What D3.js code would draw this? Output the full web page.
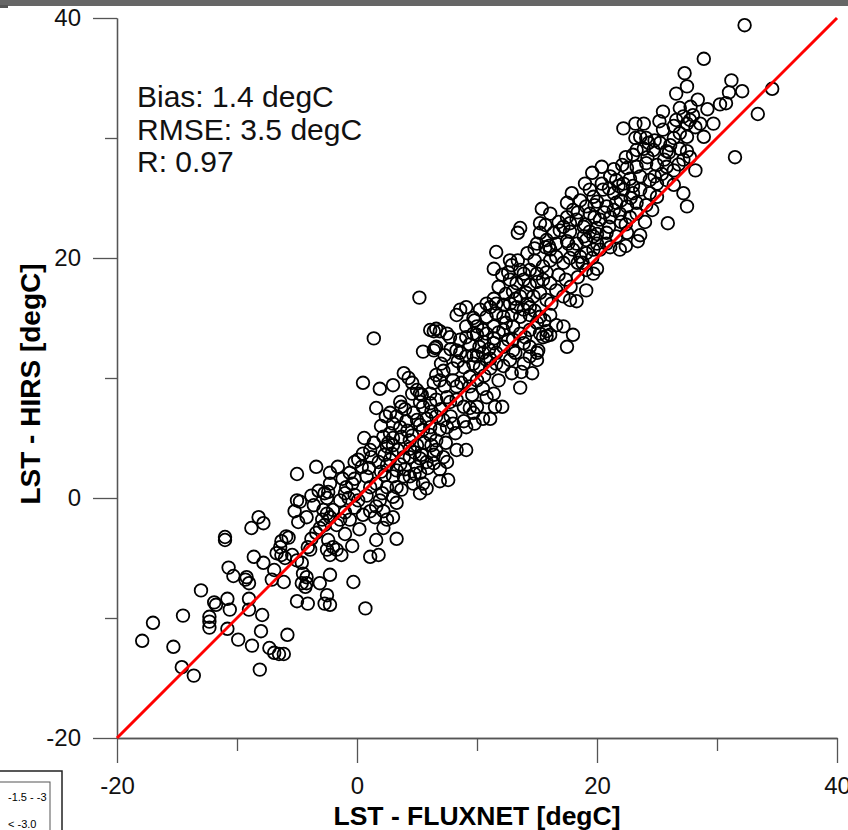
<!DOCTYPE html>
<html>
<head>
<meta charset="utf-8">
<script src="https://cdn.jsdelivr.net/npm/d3@7"></script>
<style>
  body { margin: 0; background: #fff; }
  svg { display: block; font-family: "Liberation Sans", Arial, sans-serif; }
</style>
</head>
<body>
<svg id="chart" width="848" height="830"></svg>
<script>
// LST from FLUXNET (x) vs LST from HIRS (y), degC
var ptsCold = [
  [-17.9,-11.9],[-17.0,-10.4],[-15.3,-12.4],[-14.5,-9.8],[-14.6,-14.1],[-13.6,-14.8],[-13.0,-7.7],[-11.9,-8.7],
  [-11.75,-8.9],[-10.8,-8.4],[-10.6,-9.3],[-12.3,-9.9],[-12.3,-10.3],[-12.3,-10.8],[-10.8,-10.9],[-10.7,-5.8],
  [-10.3,-6.5],[-9.3,-6.8],[-9.2,-6.6],[-9.0,-7.1],[-9.0,-8.4],[-9.0,-9.3],[-7.9,-9.75],[-8.0,-11.1],
  [-9.9,-11.8],[-8.75,-12.3],[-8.1,-14.3],[-7.3,-12.5],[-6.9,-12.9],[-6.5,-13.0],[-6.1,-13.0],[-5.8,-11.4],
  [-7.8,-5.4],[-6.9,-6.0],[-7.1,-6.8],[-6.1,-7.0],[-11.0,-3.5],[-11.0,-3.25]
];
var ptsZero = [
  [-3.4,2.6],[-5.0,2.0],[-1.6,2.6],[-2.25,2.1],[-0.6,2.1],[-0.2,3.0],[0.1,3.2],[1.1,4.0],[1.2,3.4],[2.5,4.3],
  [3.0,4.4],[2.9,3.7],[2.5,2.75],[2.3,1.9],[-2.25,1.2],[-2.4,0.5],[-0.9,0.9],[-0.4,1.2],[0.8,1.8],[1.6,1.2],
  [1.1,0.9],[3.0,1.8],[2.5,0.9],[3.3,0.9],[2.1,0.4],[3.0,0.1],[3.3,-0.4],[-2.7,0.4],[-2.5,0.0],[-1.0,0.4],
  [-1.4,-0.2],[-0.7,0.0],[-0.2,0.25],[0.1,-0.2],[-5.0,-0.2],[-4.75,-0.3],[-5.2,-1.1],[-4.9,-2.0],[-2.8,-1.0],
  [-2.5,-1.3],[-2.25,-1.6],[-2.9,-1.8],[-2.7,-2.25],[-3.1,-2.5],[-2.0,-1.0],[-1.4,-1.8],[-1.7,-2.25],[-0.6,-1.8],
  [0.5,-1.4],[1.1,-1.1],[1.5,-1.6],[1.6,-0.7],[2.2,-1.1],[3.0,-1.6],[2.5,-1.8],[2.2,-2.5],[1.6,-3.5],[3.3,-3.4],
  [1.1,-4.9],[1.8,-4.75],[-8.2,-1.6],[-7.8,-2.1],[-8.8,-2.5],[-5.9,-3.2],[-5.7,-3.3],[-6.3,-3.6],[-3.8,-3.4],
  [-2.4,-3.5],[-2.0,-4.1],[-1.7,-4.3],[-1.3,-4.75],[-2.5,-4.3],[-2.25,-4.75],[-4.1,-4.1],[-3.9,-4.3],[-6.7,-4.6],
  [-6.3,-4.75],[-6.0,-5.0],[-6.4,-4.1],[-5.4,-4.75],[-5.0,-5.2],[-4.6,-5.4],[-8.6,-4.9],[-4.5,-6.3],[-4.2,-6.6],
  [-4.6,-7.1],[-4.2,-7.1],[-4.3,-7.4],[-2.25,-6.4],[-3.1,-7.1],[-0.3,-7.0],[-5.0,-8.6],[-4.1,-8.8],[-2.5,-8.1],
  [-2.7,-8.8],[-2.25,-8.9],[0.7,-9.2],
  [1.9,-0.2],[0.8,0.2],[-0.2,-0.8],[-1.0,-1.2],[-0.2,1.6],[0.4,2.6],[-1.2,1.6],[-3.2,0.6],[-3.6,-0.6],
  [-3.8,0.2],[-4.2,-1.6],[-3.4,-2.9],[-1.0,-3.0],[0.2,-2.6],[-0.4,-4.0]
];
var ptsMild = [
  [1.4,13.3],[5.5,12.2],[6.5,12.5],[7.3,11.9],[6.1,14.0],[6.9,13.9],[7.75,13.4],[8.6,13.2],[9.1,13.4],[10.0,13.6],
  [10.8,13.7],[11.4,13.3],[8.6,12.1],[9.1,11.8],[9.7,11.9],[10.5,12.1],[11.1,11.6],[11.6,12.1],[8.9,10.9],[9.7,11.2],
  [10.25,10.9],[11.1,10.8],[0.5,9.6],[1.9,9.1],[3.0,9.4],[3.9,10.4],[4.3,10.0],[4.6,9.6],[5.0,9.0],[5.4,8.6],
  [4.6,8.7],[6.6,10.25],[6.9,9.8],[7.3,9.3],[6.4,9.6],[8.0,9.8],[8.3,9.3],[8.7,9.6],[9.4,10.1],[10.0,9.8],
  [9.4,9.3],[10.5,9.1],[11.4,8.7],[10.8,8.4],[1.6,7.5],[3.6,8.0],[3.7,7.6],[5.25,8.0],[5.5,7.6],[6.1,7.9],
  [6.6,8.2],[7.5,8.4],[7.75,8.0],[8.3,8.2],[8.9,7.6],[9.4,7.5],[10.0,7.6],[9.7,7.1],[10.5,6.6],[9.8,6.2],
  [8.9,6.4],[9.1,5.9],[2.75,7.1],[3.3,6.8],[3.0,6.2],[3.6,5.9],[4.1,6.4],[4.7,7.1],[5.0,6.5],[5.25,6.1],
  [5.5,5.7],[6.1,5.9],[6.6,6.8],[7.2,6.5],[7.5,5.9],[6.9,5.7],[11.5,7.6],[2.2,5.1],[2.75,5.4],[3.0,5.0],
  [2.6,4.6],[3.7,5.1],[4.4,4.8],[5.0,4.4],[4.4,4.1],[6.1,5.25],[6.6,4.8],[6.2,4.4],[0.5,3.7],[2.3,3.6],
  [2.75,3.2],[3.9,3.4],[4.4,3.4],[5.25,3.3],[6.6,4.0],[7.2,3.4],[8.3,4.0],[9.1,4.0],[7.5,3.0],[5.8,3.0],
  [6.4,2.9],[5.9,2.5],[5.0,2.6],[5.25,2.1],[4.4,1.8],[4.7,1.2],[3.3,2.3],[3.9,1.8],[3.7,0.7],[6.9,1.4],
  [7.6,1.5],[5.5,1.2],[5.8,0.8],[5.25,0.4],[5.2,16.7],[6.4,13.9],[6.4,12.3],[5.25,8.7],[6.1,8.7],
  [1.0,2.5],[1.8,3.0],[2.0,2.2],[3.6,2.8],[4.0,2.4],[4.8,3.8],[5.6,4.6],[4.2,5.6],[3.4,4.0],[1.4,4.6],
  [0.6,5.0],[2.0,6.0],[2.4,6.8],[4.0,7.4],[4.6,5.2],[5.8,6.6],[6.2,7.2],[7.0,7.4],[7.8,6.8],[8.2,5.4],
  [8.0,6.2],[7.4,4.6],[5.4,3.6],[4.8,2.0],[6.4,3.6],[6.9,2.4]
];
var ptsWarm = [
  [15.4,24.1],[16.1,23.7],[15.25,22.9],[15.7,22.75],[17.5,24.6],[18.0,24.0],[19.1,24.3],[19.8,24.4],[17.5,23.4],
  [18.3,23.2],[13.6,22.5],[13.4,22.1],[15.25,22.1],[15.8,21.5],[16.4,22.1],[16.9,22.3],[17.75,22.2],[18.9,22.6],
  [19.4,22.2],[20.0,22.5],[19.7,21.8],[15.0,21.2],[15.7,20.9],[16.6,21.2],[17.5,21.4],[18.3,21.2],[19.1,21.5],
  [11.6,20.5],[12.75,19.8],[12.9,19.4],[11.4,19.1],[12.1,18.6],[13.6,19.0],[13.9,18.7],[14.4,19.0],[15.0,18.7],
  [15.5,19.3],[16.1,19.8],[16.6,20.1],[17.2,19.6],[17.75,20.0],[18.6,20.1],[19.1,20.4],[19.7,20.7],[20.0,21.2],
  [19.1,19.0],[19.7,18.7],[20.0,19.1],[12.75,18.2],[13.3,17.9],[13.9,18.2],[14.4,17.75],[15.0,18.0],[15.5,18.2],
  [16.1,17.9],[13.0,17.2],[13.6,16.8],[14.1,17.1],[14.7,16.8],[15.25,17.1],[15.8,16.5],[16.6,17.3],[17.2,16.8],
  [17.75,16.5],[18.3,16.4],[19.1,17.3],[8.6,15.7],[8.3,15.25],[9.1,15.9],[10.25,15.7],[11.1,15.9],[11.6,16.2],
  [12.2,16.1],[12.75,16.2],[13.3,15.9],[13.9,15.7],[14.4,15.9],[10.8,15.1],[11.6,15.4],[12.2,15.1],[12.9,15.25],
  [13.6,15.1],[14.4,15.25],[15.25,15.1],[16.1,15.25],[16.6,14.4],[17.2,14.3],[18.0,13.6],[17.5,12.6],[9.7,15.0],
  [10.0,14.3],[10.5,14.0],[9.7,13.7],[9.1,14.3],[11.4,14.3],[12.2,14.0],[13.0,14.3],[13.6,13.7],[14.4,14.0],
  [15.25,13.7],[15.8,13.9],[15.5,13.4],[6.6,14.1],[7.5,13.7],[6.6,12.6],[8.3,12.3],[10.0,11.8],[10.8,11.5],
  [11.6,11.2],[12.75,11.5],[13.9,11.2],[14.4,11.8],[15.0,12.1],[11.4,12.9],[12.2,12.6],[13.0,12.3],[13.9,12.9],
  [14.4,12.6],[15.1,12.3],[15.0,11.5],[13.7,10.5],[14.6,10.4],[12.9,10.4],[13.6,9.2],[12.1,7.6],[11.1,6.6],
  [15.8,13.5],[16.1,13.6],[13.2,12.1],
  [9.4,12.8],[10.2,12.6],[11.0,12.4],[12.6,13.2],[12.4,14.6],[11.8,13.8],[10.6,13.0],[9.8,14.8],[10.8,16.2],
  [11.4,16.6],[12.4,17.0],[13.2,16.6],[14.2,16.2],[14.8,15.6],[15.6,14.8],[15.0,14.6],[13.0,13.2],[14.0,13.4],
  [11.8,17.6],[12.6,18.8],[13.4,19.8],[14.8,19.8],[15.8,18.8],[16.8,18.6],[17.4,18.2],[16.2,16.2],[17.8,17.6],
  [18.4,18.4],[18.8,19.6],[14.2,20.4],[14.8,20.8],[16.0,21.0],[8.0,10.8],[8.4,11.4],[7.8,12.4],[9.6,8.6],
  [10.6,10.2],[11.8,9.8],[12.2,11.0],[7.2,10.6],[7.0,11.2]
];
var ptsHot = [
  [26.6,33.7],[25.5,32.2],[26.9,32.5],[27.2,31.8],[28.0,31.9],[26.6,31.5],[27.5,31.2],[28.2,30.9],[22.2,30.8],
  [23.2,31.2],[23.6,30.1],[24.1,30.0],[24.3,29.6],[25.5,30.7],[25.25,29.6],[26.1,29.4],[26.4,30.0],[26.9,30.4],
  [27.5,30.1],[28.6,31.2],[28.9,30.1],[23.3,29.0],[23.9,29.1],[24.7,29.0],[25.8,28.9],[26.9,29.1],[27.5,28.9],
  [27.75,28.4],[27.2,28.2],[28.2,27.3],[22.1,27.75],[22.5,27.5],[23.3,27.6],[24.1,27.9],[25.0,27.75],[25.8,27.6],
  [26.4,27.3],[19.6,27.1],[21.1,26.8],[21.6,26.5],[22.2,26.2],[22.75,26.6],[23.6,26.8],[24.4,26.5],[25.0,26.2],
  [25.8,26.5],[26.4,26.1],[27.2,25.4],[27.5,24.3],[25.9,22.9],[17.9,25.4],[19.4,25.7],[19.7,25.1],[20.5,25.7],
  [21.4,25.4],[22.2,25.7],[23.0,25.4],[23.6,25.7],[24.4,25.4],[25.0,25.1],[20.0,24.7],[20.8,24.3],[21.6,24.6],
  [22.5,24.3],[23.3,24.6],[24.1,24.4],[17.75,22.9],[19.4,23.7],[20.25,23.2],[21.1,23.4],[21.9,23.7],[22.75,23.4],
  [23.3,23.7],[18.9,21.8],[20.8,22.1],[21.6,21.8],[22.5,22.1],[23.6,21.9],[23.4,21.4],[18.0,20.7],[20.25,20.7],
  [21.1,20.9],[21.9,20.7],[16.1,20.7],
  [32.3,39.4],[28.9,36.6],[27.3,35.4],[27.5,34.3],[31.2,34.8],[31.0,33.8],[32.1,33.9],[30.25,32.8],[30.75,32.9],
  [34.6,34.1],[33.4,32.0],[31.5,28.4],[29.7,31.2],[27.75,31.5],[23.9,31.2],
  [19.0,22.8],[19.8,23.4],[20.6,23.8],[21.4,24.0],[22.0,24.8],[22.8,25.0],[20.4,26.2],[21.0,25.8],[21.8,26.0],
  [23.0,26.0],[22.0,23.0],[21.0,22.6],[20.0,22.0],[22.4,22.8],[24.0,23.0],[24.6,24.0],[24.8,26.8],[25.4,27.0],
  [24.2,28.4],[23.0,28.6],[22.4,28.4],[25.6,28.2],[26.0,28.8],[24.8,29.8],[23.2,30.0],[26.8,27.8],[21.4,27.4],
  [20.4,27.6],[19.0,26.2],[18.6,24.8],[18.4,23.8],[17.2,22.6],[16.8,23.0],[20.8,21.2],[22.4,21.0],[19.6,20.0],
  [18.4,19.6],[17.6,21.2],[26.4,31.0],[27.8,32.6],[29.2,32.4],[28.4,33.2],[25.2,31.4]
];

var xMajor = [-20, 0, 20, 40];
var xMinor = [-10, 10, 30];
var yMajor = [-20, 0, 20, 40];
var yMinor = [-10, 10, 30];
var statLines = ["Bias: 1.4 degC", "RMSE: 3.5 degC", "R: 0.97"];
var legendLabels = ["-1.5 - -3", "< -3.0"];
var oneToOne = [-20, 40];

var points = [].concat(ptsCold, ptsZero, ptsMild, ptsWarm, ptsHot);

var svg = d3.select("#chart");

var x = d3.scaleLinear().domain([-20, 40]).range([117, 837]);
var y = d3.scaleLinear().domain([-20, 40]).range([738, 18]);

// grey strip along the top edge
svg.append("rect").attr("x", 0).attr("y", 0).attr("width", 848).attr("height", 6).attr("fill", "#666");
svg.append("rect").attr("x", 0).attr("y", 5).attr("width", 8).attr("height", 3).attr("fill", "#555");

var fmt = function (d) { return String(d); };

function styleAxis(g) {
  g.select(".domain").attr("stroke", "#555").attr("stroke-width", 1.3);
  g.selectAll(".tick line").attr("stroke", "#555").attr("stroke-width", 1.3);
  g.selectAll(".tick text").attr("fill", "#111").style("font-size", "24px")
    .style("font-family", "'Liberation Sans', Arial, sans-serif");
}

svg.append("g").attr("transform", "translate(0,738)")
  .call(d3.axisBottom(x).tickValues(xMajor).tickFormat(fmt).tickSize(25).tickSizeOuter(0).tickPadding(14))
  .call(styleAxis);
svg.append("g").attr("transform", "translate(0,738)")
  .call(d3.axisBottom(x).tickValues(xMinor).tickFormat("").tickSize(13).tickSizeOuter(0))
  .call(styleAxis);

svg.append("g").attr("transform", "translate(117,0)")
  .call(d3.axisLeft(y).tickValues(yMajor).tickFormat(fmt).tickSize(24).tickSizeOuter(0).tickPadding(12))
  .call(styleAxis);
svg.append("g").attr("transform", "translate(117,0)")
  .call(d3.axisLeft(y).tickValues(yMinor).tickFormat("").tickSize(12).tickSizeOuter(0))
  .call(styleAxis);

// scatter
svg.append("g").selectAll("circle")
  .data(points)
  .enter().append("circle")
  .attr("cx", function (d) { return x(d[0]); })
  .attr("cy", function (d) { return y(d[1]); })
  .attr("r", 6.3)
  .attr("fill", "none")
  .attr("stroke", "#000")
  .attr("stroke-width", 1.8);

// 1:1 line
svg.append("line")
  .attr("x1", x(oneToOne[0])).attr("y1", y(oneToOne[0]))
  .attr("x2", x(oneToOne[1])).attr("y2", y(oneToOne[1]))
  .attr("stroke", "#f00").attr("stroke-width", 3);

// stats
svg.append("g").selectAll("text")
  .data(statLines)
  .enter().append("text")
  .attr("x", 137)
  .attr("y", function (d, i) { return 107 + i * 32.5; })
  .style("font-size", "30px")
  .attr("fill", "#111")
  .text(function (d) { return d; });

// axis titles
svg.append("text")
  .attr("x", 477).attr("y", 825)
  .attr("text-anchor", "middle")
  .style("font-size", "26.5px").style("font-weight", "bold")
  .text("LST - FLUXNET [degC]");

svg.append("text")
  .attr("transform", "translate(40,384) rotate(-90)")
  .attr("text-anchor", "middle")
  .style("font-size", "28px").style("font-weight", "bold")
  .text("LST - HIRS [degC]");

// piece of a neighbouring legend, cut off at the corner
var leg = svg.append("g");
leg.append("rect").attr("x", -10).attr("y", 771).attr("width", 72).attr("height", 80)
  .attr("fill", "#fff").attr("stroke", "#222").attr("stroke-width", 1.5);
leg.append("rect").attr("x", -10).attr("y", 782).attr("width", 60).attr("height", 70)
  .attr("fill", "none").attr("stroke", "#555").attr("stroke-width", 1);
leg.selectAll("text.lab")
  .data(legendLabels)
  .enter().append("text")
  .attr("class", "lab")
  .attr("x", 8)
  .attr("y", function (d, i) { return 801 + i * 27; })
  .style("font-size", "11px")
  .text(function (d) { return d; });
</script>
</body>
</html>
